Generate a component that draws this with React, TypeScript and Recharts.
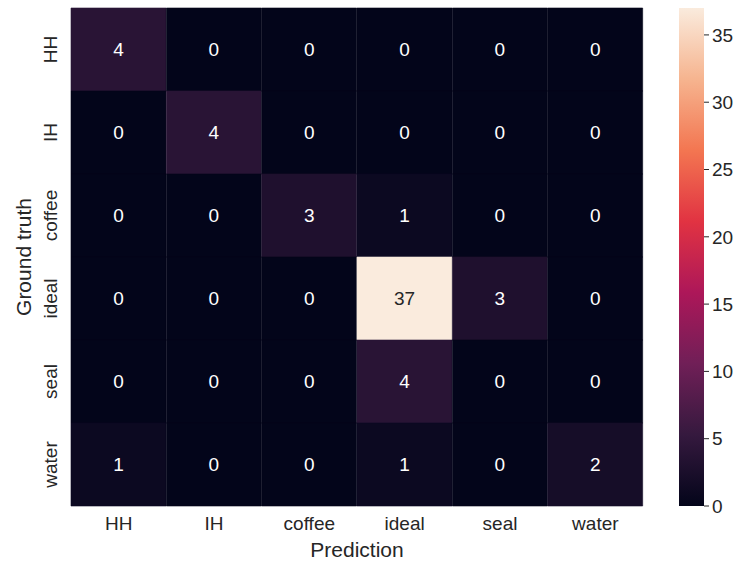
import React from "react"
import { BarChart, Bar, XAxis, YAxis, Cell, LabelList } from "recharts"

const classes = ["HH", "IH", "coffee", "ideal", "seal", "water"]

// rows = ground truth, columns = prediction
const rowHH = [4, 0, 0, 0, 0, 0]
const rowIH = [0, 4, 0, 0, 0, 0]
const rowCoffee = [0, 0, 3, 1, 0, 0]
const rowIdeal = [0, 0, 0, 37, 3, 0]
const rowSeal = [0, 0, 0, 4, 0, 0]
const rowWater = [1, 0, 0, 1, 0, 2]
const matrix = [rowHH, rowIH, rowCoffee, rowIdeal, rowSeal, rowWater]

const colorbarTicks = [0, 5, 10, 15, 20, 25, 30, 35]
const vmax = 37

// seaborn "rocket" colormap control points
const rocket: [number, string][] = [
  [0, "#03051a"],
  [1 / 7, "#35193e"],
  [2 / 7, "#701f57"],
  [3 / 7, "#ad1759"],
  [4 / 7, "#e13342"],
  [5 / 7, "#f37651"],
  [6 / 7, "#f6b48f"],
  [1, "#faebdd"],
]

const hex = (h: string) => [1, 3, 5].map((i) => parseInt(h.slice(i, i + 2), 16))

function rocketColor(v: number) {
  const t = Math.max(0, Math.min(1, v / vmax))
  for (let i = 1; i < rocket.length; i++) {
    const [p1, c1] = rocket[i]
    const [p0, c0] = rocket[i - 1]
    if (t <= p1) {
      const f = (t - p0) / (p1 - p0)
      const a = hex(c0)
      const b = hex(c1)
      const rgb = a.map((x, k) => Math.round(x + (b[k] - x) * f))
      return `rgb(${rgb.join(",")})`
    }
  }
  return rocket[rocket.length - 1][1]
}

function isLight(v: number) {
  const [r, g, b] = rocketColor(v).match(/\d+/g)!.map((s) => Number(s) / 255)
  const lin = (c: number) => (c <= 0.03928 ? c / 12.92 : Math.pow((c + 0.055) / 1.055, 2.4))
  return 0.2126 * lin(r) + 0.7152 * lin(g) + 0.0722 * lin(b) > 0.408
}

// one stacked bar per predicted class, one unit segment per ground truth row
const data = classes.map((name, c) => {
  const row: Record<string, string | number> = { name }
  matrix.forEach((r, k) => {
    row[`r${k}`] = 1
    row[`v${k}`] = r[c]
  })
  return row
})

const font = "'Liberation Sans', Arial, Helvetica, sans-serif"
const textColor = "#262626"

const RowTick = (props: any) => {
  const { x, y, payload } = props
  const label = classes[Math.floor(payload.value)]
  return (
    <text
      x={x}
      y={y}
      transform={`rotate(-90, ${x}, ${y})`}
      textAnchor="middle"
      fill={textColor}
      fontSize={19}
      fontFamily={font}
    >
      {label}
    </text>
  )
}

const CellLabel = (props: any) => {
  const { x, y, width, height, value } = props
  return (
    <text
      x={x + width / 2}
      y={y + height / 2}
      textAnchor="middle"
      dominantBaseline="central"
      fill={isLight(value) ? textColor : "#ffffff"}
      fontSize={19}
      fontFamily={font}
    >
      {value}
    </text>
  )
}

export default function App() {
  return (
    <div style={{ position: "absolute", left: 0, top: 0, width: 741, height: 564, background: "#fff" }}>
      <div style={{ position: "absolute", left: 0, top: 0 }}>
        <BarChart
          width={741}
          height={564}
          data={data}
          margin={{ top: 8, right: 98, bottom: 0, left: 0 }}
          barCategoryGap={0}
          barGap={0}
        >
          <XAxis
            dataKey="name"
            height={58}
            axisLine={false}
            tickLine={false}
            tickSize={0}
            tickMargin={11}
            tick={{ fill: textColor, fontSize: 19, fontFamily: font }}
            label={{
              content: ({ viewBox }: any) => (
                <text
                  x={viewBox.x + viewBox.width / 2}
                  y={viewBox.y + 51}
                  textAnchor="middle"
                  fill={textColor}
                  fontSize={21}
                  fontFamily={font}
                >
                  Prediction
                </text>
              ),
            }}
          />
          <YAxis
            type="number"
            domain={[0, 6]}
            reversed
            ticks={[0.5, 1.5, 2.5, 3.5, 4.5, 5.5]}
            width={71}
            axisLine={false}
            tickLine={false}
            tickSize={0}
            tickMargin={14}
            tick={<RowTick />}
            label={{
              content: ({ viewBox }: any) => {
                const cx = viewBox.x + 31
                const cy = viewBox.y + viewBox.height / 2
                return (
                  <text
                    x={cx}
                    y={cy}
                    transform={`rotate(-90, ${cx}, ${cy})`}
                    textAnchor="middle"
                    fill={textColor}
                    fontSize={21}
                    fontFamily={font}
                  >
                    Ground truth
                  </text>
                )
              },
            }}
          />
          {matrix.map((row, k) => (
            <Bar key={k} dataKey={`r${k}`} stackId="m" isAnimationActive={false}>
              {row.map((v, c) => (
                <Cell key={c} fill={rocketColor(v)} stroke={rocketColor(v)} strokeWidth={0.6} />
              ))}
              <LabelList dataKey={`v${k}`} content={<CellLabel />} />
            </Bar>
          ))}
        </BarChart>
      </div>
      <div style={{ position: "absolute", left: 0, top: 0 }}>
        <BarChart
          width={741}
          height={564}
          data={[{ name: "scale", value: vmax }]}
          margin={{ top: 8, right: 0, bottom: 58, left: 679 }}
          barCategoryGap={0}
        >
          <defs>
            <linearGradient id="rocketBar" x1="0" y1="1" x2="0" y2="0">
              {rocket.map(([p, c]) => (
                <stop key={p} offset={p} stopColor={c} />
              ))}
            </linearGradient>
          </defs>
          <XAxis dataKey="name" hide />
          <YAxis
            orientation="right"
            type="number"
            domain={[0, vmax]}
            ticks={colorbarTicks}
            width={37}
            axisLine={false}
            tickLine={{ stroke: textColor, strokeWidth: 1 }}
            tickSize={5}
            tickMargin={3}
            tick={{ fill: textColor, fontSize: 19, fontFamily: font }}
          />
          <Bar dataKey="value" fill="url(#rocketBar)" isAnimationActive={false} />
        </BarChart>
      </div>
    </div>
  )
}
